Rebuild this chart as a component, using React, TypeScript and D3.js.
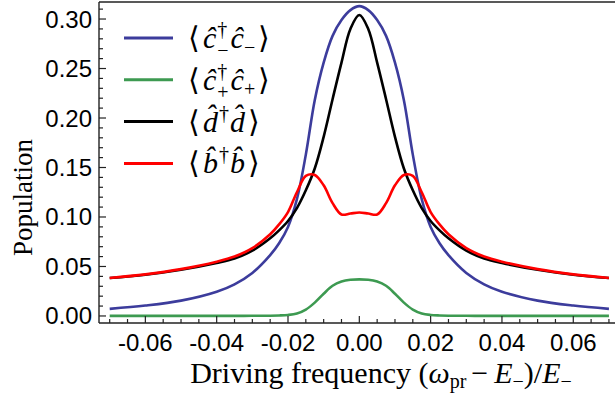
import React from 'react';
import * as d3 from 'd3';

// driving frequency grid (omega_pr - E_-)/E_-
const freq = [
  -0.07, -0.06, -0.05, -0.04, -0.035, -0.03, -0.025, -0.0225, -0.02, -0.0175, -0.015, -0.0125, -0.01, -0.0075, -0.005, -0.0025,
  0,
  0.0025, 0.005, 0.0075, 0.01, 0.0125, 0.015, 0.0175, 0.02, 0.0225, 0.025, 0.03, 0.035, 0.04, 0.05, 0.06, 0.07,
];

const cMinus = [
  0.0072, 0.0105, 0.0155, 0.0245, 0.032, 0.0435, 0.0615, 0.0735, 0.09, 0.118, 0.163, 0.218, 0.256, 0.283, 0.299, 0.309,
  0.313,
  0.309, 0.299, 0.283, 0.256, 0.218, 0.163, 0.118, 0.09, 0.0735, 0.0615, 0.0435, 0.032, 0.0245, 0.0155, 0.0105, 0.0072,
];

const cPlus = [
  0.0001, 0.0001, 0.0001, 0.0001, 0.0001, 0.0002, 0.0003, 0.0005, 0.001, 0.0025, 0.0065, 0.0135, 0.0225, 0.0305, 0.0348, 0.0366,
  0.037,
  0.0366, 0.0348, 0.0305, 0.0225, 0.0135, 0.0065, 0.0025, 0.001, 0.0005, 0.0003, 0.0002, 0.0001, 0.0001, 0.0001, 0.0001, 0.0001,
];

const dPop = [
  0.0383, 0.0417, 0.0467, 0.0535, 0.058, 0.066, 0.0785, 0.0865, 0.096, 0.109, 0.127, 0.149, 0.181, 0.219, 0.256, 0.29,
  0.304,
  0.29, 0.256, 0.219, 0.181, 0.149, 0.127, 0.109, 0.096, 0.0865, 0.0785, 0.066, 0.058, 0.0535, 0.0467, 0.0417, 0.0383,
];

const bPop = [
  0.0384, 0.042, 0.0473, 0.0548, 0.06, 0.0685, 0.0825, 0.0925, 0.105, 0.125, 0.1415, 0.1425, 0.132, 0.114, 0.1025, 0.1035,
  0.1045,
  0.1035, 0.1025, 0.114, 0.132, 0.1425, 0.1415, 0.125, 0.105, 0.0925, 0.0825, 0.0685, 0.06, 0.0548, 0.0473, 0.042, 0.0384,
];

const xMajor = [-0.06, -0.04, -0.02, 0, 0.02, 0.04, 0.06];
const yMajor = [0, 0.05, 0.1, 0.15, 0.2, 0.25, 0.3];

const series = [
  { key: 'cm', values: cMinus, color: '#3c3c9c' },
  { key: 'cp', values: cPlus, color: '#3d9a51' },
  { key: 'd', values: dPop, color: '#000000' },
  { key: 'b', values: bPop, color: '#ff0000' },
];

const serif = '"Liberation Serif", "Times New Roman", serif';

function LegendLabel({ k }: { k: string }) {
  const it = { fontStyle: 'italic' as const };
  if (k === 'cm' || k === 'cp') {
    const sub = k === 'cm' ? '\u2212' : '+';
    return (
      <text fontFamily={serif} fontSize={30} fill="#000">
        <tspan>{'\u27E8'}</tspan>
        <tspan {...it} dx={3}>{'\u0109'}</tspan>
        <tspan fontSize={20} dy={-12} dx={1}>{'\u2020'}</tspan>
        <tspan fontSize={20} dx={-10} dy={21}>{sub}</tspan>
        <tspan {...it} dy={-9} dx={2}>{'\u0109'}</tspan>
        <tspan fontSize={20} dy={6}>{sub}</tspan>
        <tspan dy={-6} dx={3}>{'\u27E9'}</tspan>
      </text>
    );
  }
  const ch = k === 'd' ? 'd\u0302' : 'b\u0302';
  return (
    <text fontFamily={serif} fontSize={30} fill="#000">
      <tspan>{'\u27E8'}</tspan>
      <tspan {...it} dx={3}>{ch}</tspan>
      <tspan fontSize={20} dy={-12} dx={1}>{'\u2020'}</tspan>
      <tspan {...it} dy={12} dx={1}>{ch}</tspan>
      <tspan dx={3}>{'\u27E9'}</tspan>
    </text>
  );
}

export default function App() {
  const W = 615;
  const H = 401;
  const left = 99;
  const top = 2;
  const bottom = 323;

  const x = d3.scaleLinear().domain([-0.073, 0.07]).range([left, left + 0.143 * 3566]);
  const y = d3.scaleLinear().domain([-0.0071, 0.3172]).range([bottom, top]);

  const line = (vals: number[]) =>
    d3
      .line<number>()
      .x((_, i) => x(freq[i]))
      .y((d) => y(d))
      .curve(d3.curveCatmullRom.alpha(0.5))(vals) as string;

  const xMinor = d3.range(-14, 15).map((i) => i * 0.005);
  const yMinor = d3.range(0, 32).map((i) => i * 0.01);

  return (
    <svg width={W} height={H} style={{ position: 'absolute', left: 0, top: 0, background: '#fff' }}>
      {/* curves */}
      {series.map((s) => (
        <path key={s.key} d={line(s.values)} fill="none" stroke={s.color} strokeWidth={2.6} strokeLinejoin="round" />
      ))}

      {/* frame */}
      <g stroke="#222" strokeWidth={1.4} fill="none">
        <line x1={left} x2={W} y1={top} y2={top} />
        <line x1={left} x2={left} y1={top} y2={bottom} />
        <line x1={left} x2={W} y1={bottom} y2={bottom} />
      </g>

      {/* ticks */}
      <g stroke="#222" strokeWidth={1.2}>
        {xMinor.map((v) => {
          const major = xMajor.some((m) => Math.abs(m - v) < 1e-9);
          return <line key={v} x1={x(v)} x2={x(v)} y1={bottom} y2={bottom - (major ? 7 : 4)} />;
        })}
        {yMinor.map((v) => {
          const major = yMajor.some((m) => Math.abs(m - v) < 1e-9);
          return <line key={v} x1={left} x2={left + (major ? 7 : 4)} y1={y(v)} y2={y(v)} />;
        })}
      </g>

      <g fontFamily='"Liberation Sans", Arial, sans-serif' fontSize={24} fill="#000">
        {xMajor.map((v) => (
          <text key={v} x={x(v)} y={bottom + 28} textAnchor="middle">
            {d3.format('.2f')(v).replace('\u2212', '-')}
          </text>
        ))}
        {yMajor.map((v) => (
          <text key={v} x={left - 7} y={y(v)} textAnchor="end" dominantBaseline="central">
            {d3.format('.2f')(v)}
          </text>
        ))}
      </g>

      {/* axis titles */}
      <text x={381} y={383} textAnchor="middle" fontFamily={serif} fontSize={30} fill="#000">
        Driving frequency (<tspan fontStyle="italic">ω</tspan>
        <tspan fontSize={20} dy={5}>pr</tspan>
        <tspan dy={-5} dx={5}>−</tspan>
        <tspan fontStyle="italic" dx={6}>E</tspan>
        <tspan fontSize={20} dy={5}>−</tspan>
        <tspan dy={-5}>)/</tspan>
        <tspan fontStyle="italic">E</tspan>
        <tspan fontSize={20} dy={5}>−</tspan>
      </text>
      <text
        transform={`translate(32, ${(top + bottom) / 2 + 35}) rotate(-90)`}
        textAnchor="middle"
        fontFamily={serif}
        fontSize={27}
        fill="#000"
      >
        Population
      </text>

      {/* legend */}
      {series.map((s, i) => (
        <g key={s.key} transform={`translate(124, ${38 + i * 41.8})`}>
          <line x1={0} x2={49} y1={0} y2={0} stroke={s.color} strokeWidth={3} />
          <g transform="translate(64, 10)">
            <LegendLabel k={s.key} />
          </g>
        </g>
      ))}
    </svg>
  );
}
